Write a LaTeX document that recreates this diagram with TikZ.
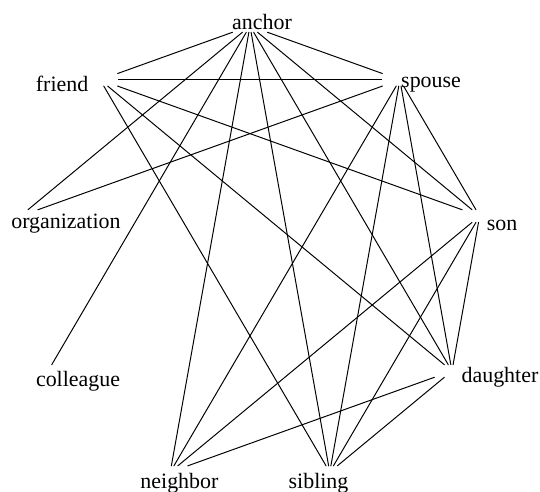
\documentclass[tikz,border=0pt]{standalone}
\usepackage{fontspec}
\setmainfont{Liberation Serif}
\usetikzlibrary{positioning}
\tikzset{
    vtx/.style = {rectangle, inner sep=0pt, minimum width=9mm, minimum height=3mm},
    lbl/.style = {inner sep=0pt, text height=0pt, text depth=0pt, font=\fontsize{15.6}{18}\selectfont},
    link/.style = {line width=0.7pt, line cap=round}
}

\begin{document}
\begin{tikzpicture}
\useasboundingbox (-6.25, -5.9) rectangle (7.25, 6.4);

% Nodes on the ring
\node[vtx, label={[lbl, xshift=0.30cm, yshift=-0.10cm]center:anchor}] (anchor) at (90:5.83 and 5.75) {};
\node[vtx, label={[lbl, xshift=0.78cm, yshift=-0.18cm]center:spouse}] (spouse) at (50:5.83 and 5.75) {};
\node[vtx, label={[lbl, xshift=0.56cm, yshift=-0.35cm]center:son}] (son) at (10:5.83 and 5.75) {};
\node[vtx, label={[lbl, xshift=1.20cm, yshift=-0.30cm]center:daughter}] (daughter) at (-30:5.83 and 5.75) {};
\node[vtx, label={[lbl, xshift=-0.28cm, yshift=-0.40cm]center:sibling}] (sibling) at (-70:5.83 and 5.75) {};
\node[vtx, label={[lbl, xshift=0.23cm, yshift=-0.40cm]center:neighbor}] (neighbor) at (-110:5.83 and 5.75) {};
\node[vtx, label={[lbl, xshift=0.75cm, yshift=-0.38cm]center:colleague}] (colleague) at (-150:5.83 and 5.75) {};
\node[vtx, label={[lbl, xshift=1.14cm, yshift=-0.30cm]center:organization}] (org) at (170:5.83 and 5.75) {};
\node[vtx, label={[lbl, xshift=-0.95cm, yshift=-0.28cm]center:friend}] (friend) at (130:5.83 and 5.75) {};

% anchor links
\draw[link] (anchor) -- (friend);
\draw[link] (anchor) -- (spouse);
\draw[link] (anchor) -- (org);
\draw[link] (anchor) -- (colleague);
\draw[link] (anchor) -- (neighbor);
\draw[link] (anchor) -- (sibling);
\draw[link] (anchor) -- (son);
\draw[link] (anchor) -- (daughter);

% friend links
\draw[link] (friend) -- (spouse);
\draw[link] (friend) -- (son);
\draw[link] (friend) -- (daughter);
\draw[link] (friend) -- (sibling);

% spouse links
\draw[link] (spouse) -- (org);
\draw[link] (spouse) -- (neighbor);
\draw[link] (spouse) -- (sibling);
\draw[link] (spouse) -- (daughter);
\draw[link] (spouse) -- (son);

% son links
\draw[link] (son) -- (neighbor);
\draw[link] (son) -- (sibling);
\draw[link] (son) -- (daughter);

% daughter links
\draw[link] (daughter) -- (neighbor);
\draw[link] (daughter) -- (sibling);
\end{tikzpicture}
\end{document}
